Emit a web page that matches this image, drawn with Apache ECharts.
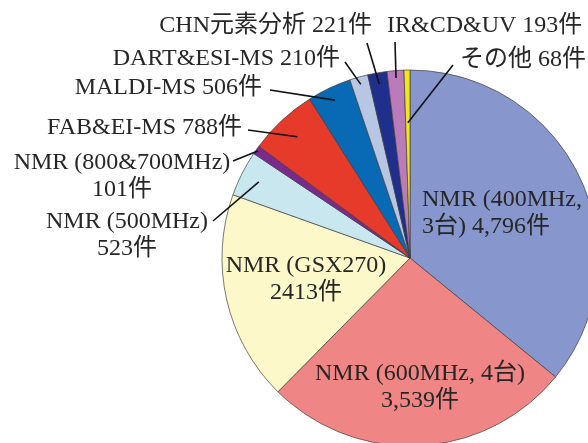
<!DOCTYPE html>
<html>
<head>
<meta charset="utf-8">
<script src="https://cdn.jsdelivr.net/npm/echarts@6/dist/echarts.min.js"></script>
<style>
html,body{margin:0;padding:0;background:#fff;}
#chart{width:588px;height:443px;}
</style>
</head>
<body>
<div id="chart"></div>
<script>
// ---- data ----
const categories = ['NMR (400MHz, 3台)', 'NMR (600MHz, 4台)', 'NMR (GSX270)', 'NMR (500MHz)',
  'NMR (800&700MHz)', 'FAB&EI-MS', 'MALDI-MS', 'DART&ESI-MS', 'CHN元素分析', 'IR&CD&UV', 'その他'];
const values = [4796, 3539, 2413, 523, 101, 788, 506, 210, 221, 193, 68];
const labelTexts = ['NMR (400MHz,\n3台) 4,796件', 'NMR (600MHz, 4台)\n3,539件', 'NMR (GSX270)\n2413件',
  'NMR (500MHz)\n523件', 'NMR (800&700MHz)\n101件', 'FAB&EI-MS 788件', 'MALDI-MS 506件',
  'DART&ESI-MS 210件', 'CHN元素分析 221件', 'IR&CD&UV 193件', 'その他 68件'];

// ---- styles / layout ----
const colors = ['#8797cd', '#f08585', '#fdf8c9', '#c9e7ef', '#7a2a8c', '#e63a2a', '#0869b5',
  '#b7c6e3', '#1f2f8c', '#b97bb9', '#f6e51a'];
const CENTER = [410, 258], RADIUS = 188;
const place = [
  {x: 422, y: 213, align: 'left'},
  {x: 420, y: 387, align: 'center'},
  {x: 306, y: 279, align: 'center'},
  {x: 127, y: 235, align: 'center', line: [213, 221], r: 0.9},
  {x: 122, y: 176, align: 'center', line: [233, 161], r: 0.99},
  {x: 242, y: 128, align: 'right', line: [248, 130], r: 0.88},
  {x: 262, y: 88, align: 'right', line: [270, 90], r: 0.93},
  {x: 340, y: 59, align: 'right', line: [345, 62], r: 0.96},
  {x: 372, y: 26, align: 'right', line: [367, 43], r: 0.94},
  {x: 387, y: 26, align: 'left', line: [395, 42], r: 0.96},
  {x: 460, y: 60, align: 'left', line: [453, 65], r: 0.72}
];

const total = values.reduce((a, b) => a + b, 0);
const cum = [];
values.reduce((acc, v, i) => { cum[i] = acc; return acc + v; }, 0);

function innerPoint(i, rf) {
  const mid = (cum[i] + values[i] / 2) / total * 2 * Math.PI; // clockwise from top
  return [CENTER[0] + Math.sin(mid) * RADIUS * rf, CENTER[1] - Math.cos(mid) * RADIUS * rf];
}

const data = categories.map((name, i) => ({
  name,
  value: values[i],
  itemStyle: {color: colors[i]}
}));

// leader lines derived from each slice's mid-angle
const leaderLines = place.map((p, i) => p.line ? {
  type: 'polyline',
  z: 100,
  silent: true,
  shape: {points: [innerPoint(i, p.r), p.line]},
  style: {stroke: '#111', lineWidth: 1.6, fill: null}
} : null).filter(Boolean);

const chart = echarts.init(document.getElementById('chart'), null, {renderer: 'canvas'});
chart.setOption({
  backgroundColor: '#ffffff',
  animation: false,
  graphic: leaderLines,
  series: [{
    type: 'pie',
    center: CENTER,
    radius: RADIUS,
    startAngle: 90,
    clockwise: true,
    avoidLabelOverlap: false,
    data,
    itemStyle: {borderColor: 'rgba(60,60,60,0.85)', borderWidth: 0.8},
    label: {
      show: true,
      position: 'outside',
      formatter: p => labelTexts[p.dataIndex],
      fontFamily: "'Liberation Serif', 'Noto Sans CJK JP', serif",
      fontSize: 24,
      lineHeight: 27,
      color: '#262626'
    },
    labelLine: {show: false},
    emphasis: {disabled: true},
    labelLayout: function (params) {
      const p = place[params.dataIndex];
      return {x: p.x, y: p.y, align: p.align, verticalAlign: 'middle', hideOverlap: false, moveOverlap: null};
    }
  }]
});
</script>
</body>
</html>
